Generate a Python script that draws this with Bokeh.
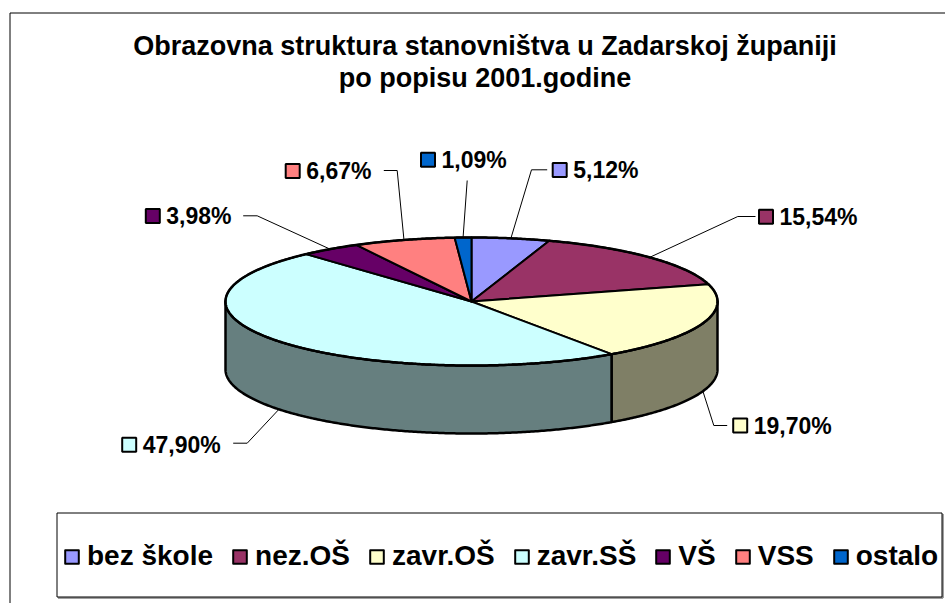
import numpy as np
from bokeh.plotting import figure
from bokeh.models import ColumnDataSource, Range1d, Legend, LegendItem
from bokeh.core.properties import value
from bokeh.embed import file_html
from bokeh.resources import INLINE

# ---------------- data ----------------
title_lines = ["Obrazovna struktura stanovništva u Zadarskoj županiji",
               "po popisu 2001.godine"]
categories = ["bez škole", "nez.OŠ", "zavr.OŠ", "zavr.SŠ", "VŠ", "VSS", "ostalo"]
percent = [5.12, 15.54, 19.70, 47.90, 3.98, 6.67, 1.09]
colors = ["#9999FF", "#993366", "#FFFFCC", "#CCFFFF", "#660066", "#FF8080", "#0066CC"]

# ---------------- layout / style ----------------
FONT_NAME = "Liberation Sans"
FONT = value(FONT_NAME)
W, H = 945, 603
CX, CY, RX, RY, DEPTH = 471.0, 301.0, 246.0, 64.0, 68.0
# per-label layout: key-box centre (x, y), leader elbow (x, y), leader end x
label_layout = [
    (559.2, 169.5, 531.0, 169.3, 546.7),
    (765.5, 216.3, 737.3, 216.0, 755.0),
    (739.7, 425.0, 713.3, 425.0, 726.7),
    (128.7, 444.2, 246.7, 442.7, 232.7),
    (152.3, 215.5, 256.7, 215.3, 242.7),
    (292.2, 170.5, 396.7, 170.0, 383.3),
    (427.5, 159.2, 466.7, 180.0, 466.7),
]


def darker(hex_color, f=0.5):
    h = hex_color.lstrip("#")
    r, g, b = (int(h[i:i + 2], 16) for i in (0, 2, 4))
    return "#%02X%02X%02X" % (int(r * f), int(g * f), int(b * f))


def pt(theta_deg, dy=0.0):
    t = np.radians(theta_deg)
    return CX + RX * np.sin(t), CY - RY * np.cos(t) + dy


total = float(sum(percent))
ends = np.cumsum(percent) / total * 360.0
starts = np.concatenate([[0.0], ends[:-1]])

# top faces
top_xs, top_ys = [], []
for t0, t1 in zip(starts, ends):
    th = np.linspace(t0, t1, max(int((t1 - t0) * 2), 4))
    x, y = pt(th)
    top_xs.append(np.concatenate([[CX], x]).tolist())
    top_ys.append(np.concatenate([[CY], y]).tolist())

# visible side walls (front half: 90..270 deg)
side_xs, side_ys, side_cols = [], [], []
for t0, t1, c in zip(starts, ends, colors):
    lo, hi = max(t0, 90.0), min(t1, 270.0)
    if hi > lo:
        th = np.linspace(lo, hi, max(int((hi - lo) * 2), 4))
        xt, yt = pt(th)
        xb, yb = pt(th[::-1], DEPTH)
        side_xs.append(np.concatenate([xt, xb]).tolist())
        side_ys.append(np.concatenate([yt, yb]).tolist())
        side_cols.append(darker(c))

# leader lines anchored on slice mid angle
lead_xs, lead_ys = [], []
lab_x, lab_y, box_x, box_y, lab_txt = [], [], [], [], []
for i, (t0, t1) in enumerate(zip(starts, ends)):
    mid = (t0 + t1) / 2.0
    front = np.cos(np.radians(mid)) < 0
    ax, ay = pt(mid, DEPTH if front else 0.0)
    bx, by, ex, ey, endx = label_layout[i]
    lead_xs.append([float(ax), ex, endx])
    lead_ys.append([float(ay), ey, ey])
    box_x.append(bx)
    box_y.append(by)
    lab_x.append(bx + 13.5)
    lab_y.append(by)
    lab_txt.append(("%.2f" % percent[i]).replace(".", ",") + "%")

# ---------------- figure ----------------
p = figure(width=W, height=H, x_range=Range1d(0, W), y_range=Range1d(H, 0),
           x_axis_type=None, y_axis_type=None, toolbar_location=None,
           output_backend="svg", min_border=0, outline_line_color=None,
           background_fill_color="white", border_fill_color="white")
p.grid.visible = False

# outer chart border
p.segment(x0=[9.5, 9.5], y0=[12.5, 12.5], x1=[9.5, 950], y1=[610, 12.5],
          line_color="#000000", line_width=1)

# title
p.text(x=[484.5, 484.5], y=[45, 77], text=title_lines, text_align="center",
       text_baseline="alphabetic", text_font=FONT, text_font_style="bold",
       text_font_size="27px", text_color="#000000")

# leaders
p.multi_line(xs=lead_xs, ys=lead_ys, line_color="#000000", line_width=1)

# pie sides and tops
p.patches(xs=side_xs, ys=side_ys, fill_color=side_cols, line_color="#000000",
          line_width=2.5, line_join="round")
src = ColumnDataSource(dict(xs=top_xs, ys=top_ys, color=colors, cat=categories))
top_r = p.patches(xs="xs", ys="ys", source=src, fill_color="color",
                  line_color="#000000", line_width=2, line_join="round")
# rim outline
rim_th = np.linspace(0, 360, 721)
rx, ry = pt(rim_th)
p.line(x=rx.tolist(), y=ry.tolist(), line_color="#000000", line_width=2.5)

# data labels
p.scatter(x=box_x, y=box_y, marker="square", size=14, fill_color=colors,
          line_color="#000000", line_width=2)
p.text(x=lab_x, y=lab_y, text=lab_txt, text_align="left", text_baseline="middle",
       text_font=FONT, text_font_style="bold", text_font_size="23px",
       text_color="#000000")

# legend frame (with light shadow on right/bottom)
p.segment(x0=[57.5, 942.5], y0=[597.5, 513.5], x1=[942.5, 942.5], y1=[597.5, 597.5],
          line_color="#808080", line_width=1.5)
p.quad(left=[56.5], right=[941.5], top=[512.5], bottom=[596.5], fill_color=None,
       line_color="#000000", line_width=1)

legend = Legend(
    items=[LegendItem(label=c, renderers=[top_r], index=i) for i, c in enumerate(categories)],
    orientation="horizontal", location=(63, 31), glyph_width=17, glyph_height=17,
    label_standoff=7, spacing=18, padding=0, margin=0, border_line_color=None,
    background_fill_alpha=0, label_text_font=FONT_NAME, label_text_font_style="bold",
    label_text_font_size="28px", label_text_color="#000000")
p.add_layout(legend)

open("out.html", "w").write(file_html(p, INLINE))
